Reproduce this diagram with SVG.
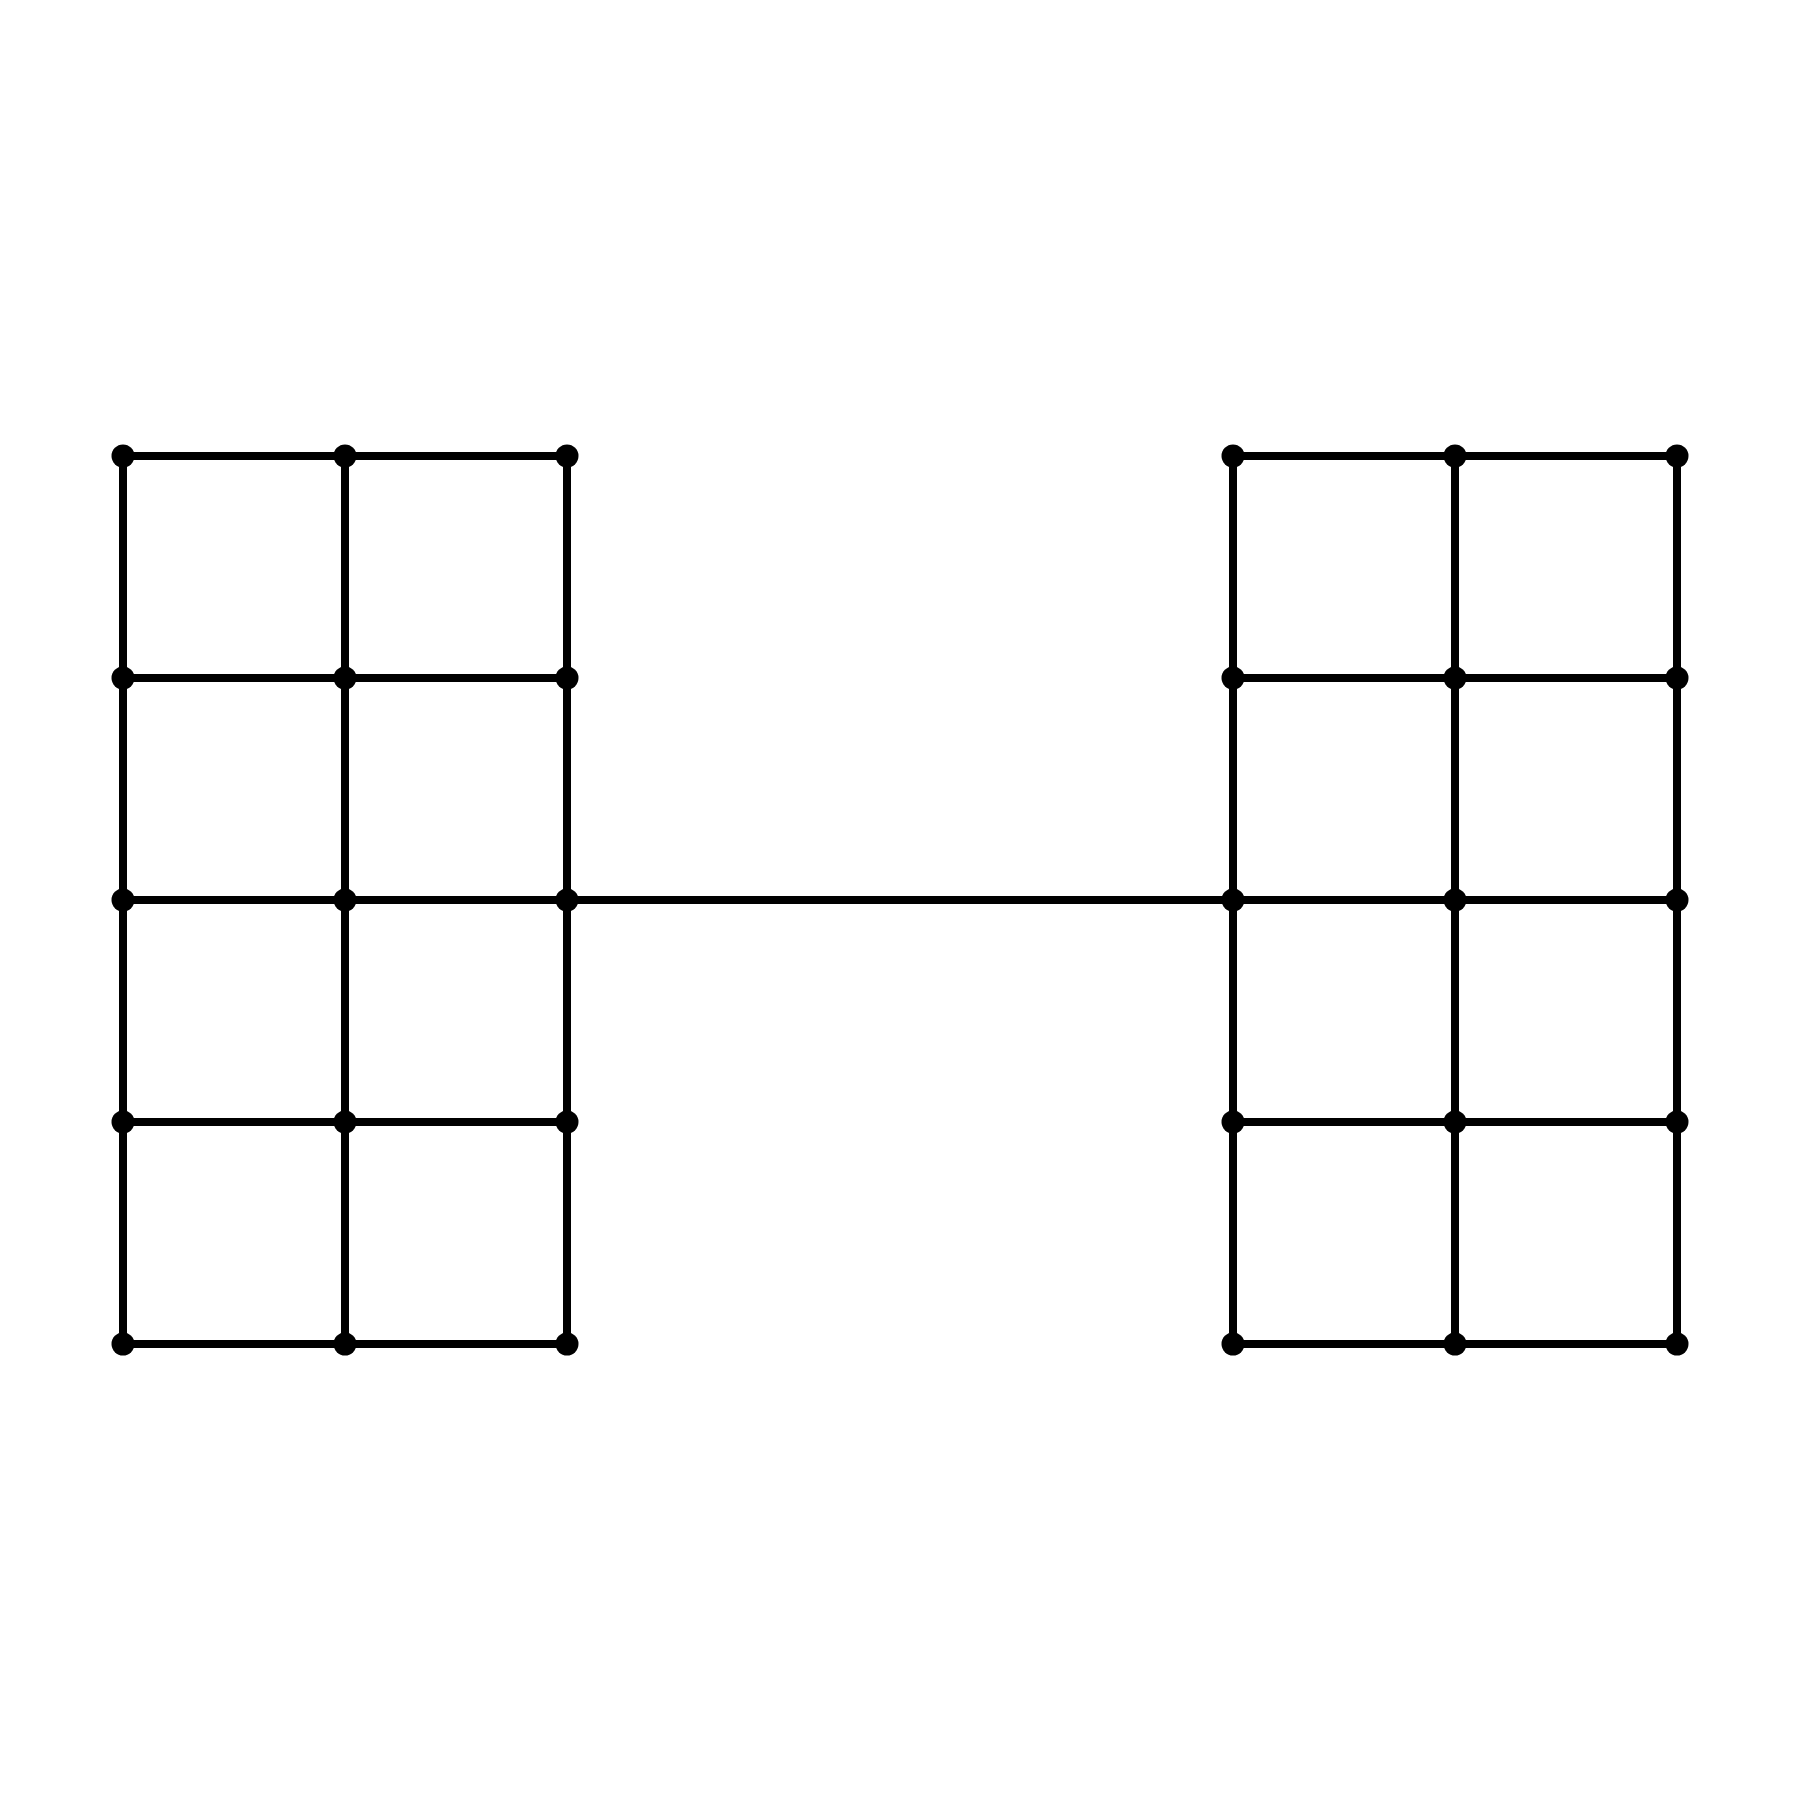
<svg xmlns="http://www.w3.org/2000/svg" width="1800" height="1800" viewBox="0 0 1800 1800">
<style>
.n{fill:#000}
.e{stroke:#000;stroke-width:8;fill:none}
</style>
<rect width="1800" height="1800" fill="#fff"/>
<g id="nodes">
<g id="L00"><circle class="n" cx="123" cy="456" r="11.5"/></g>
<g id="L01"><circle class="n" cx="345" cy="456" r="11.5"/></g>
<g id="L02"><circle class="n" cx="567" cy="456" r="11.5"/></g>
<g id="L10"><circle class="n" cx="123" cy="678" r="11.5"/></g>
<g id="L11"><circle class="n" cx="345" cy="678" r="11.5"/></g>
<g id="L12"><circle class="n" cx="567" cy="678" r="11.5"/></g>
<g id="L20"><circle class="n" cx="123" cy="900" r="11.5"/></g>
<g id="L21"><circle class="n" cx="345" cy="900" r="11.5"/></g>
<g id="L22"><circle class="n" cx="567" cy="900" r="11.5"/></g>
<g id="L30"><circle class="n" cx="123" cy="1122" r="11.5"/></g>
<g id="L31"><circle class="n" cx="345" cy="1122" r="11.5"/></g>
<g id="L32"><circle class="n" cx="567" cy="1122" r="11.5"/></g>
<g id="L40"><circle class="n" cx="123" cy="1344" r="11.5"/></g>
<g id="L41"><circle class="n" cx="345" cy="1344" r="11.5"/></g>
<g id="L42"><circle class="n" cx="567" cy="1344" r="11.5"/></g>
<g id="R00"><circle class="n" cx="1233" cy="456" r="11.5"/></g>
<g id="R01"><circle class="n" cx="1455" cy="456" r="11.5"/></g>
<g id="R02"><circle class="n" cx="1677" cy="456" r="11.5"/></g>
<g id="R10"><circle class="n" cx="1233" cy="678" r="11.5"/></g>
<g id="R11"><circle class="n" cx="1455" cy="678" r="11.5"/></g>
<g id="R12"><circle class="n" cx="1677" cy="678" r="11.5"/></g>
<g id="R20"><circle class="n" cx="1233" cy="900" r="11.5"/></g>
<g id="R21"><circle class="n" cx="1455" cy="900" r="11.5"/></g>
<g id="R22"><circle class="n" cx="1677" cy="900" r="11.5"/></g>
<g id="R30"><circle class="n" cx="1233" cy="1122" r="11.5"/></g>
<g id="R31"><circle class="n" cx="1455" cy="1122" r="11.5"/></g>
<g id="R32"><circle class="n" cx="1677" cy="1122" r="11.5"/></g>
<g id="R40"><circle class="n" cx="1233" cy="1344" r="11.5"/></g>
<g id="R41"><circle class="n" cx="1455" cy="1344" r="11.5"/></g>
<g id="R42"><circle class="n" cx="1677" cy="1344" r="11.5"/></g>
</g>
<g id="connectors">
<path class="e" d="M123 456H567M123 678H567M123 900H567M123 1122H567M123 1344H567"/>
<path class="e" d="M123 456V1344M345 456V1344M567 456V1344"/>
<path class="e" d="M1233 456H1677M1233 678H1677M1233 900H1677M1233 1122H1677M1233 1344H1677"/>
<path class="e" d="M1233 456V1344M1455 456V1344M1677 456V1344"/>
<path class="e" d="M567 900H1233"/>
</g>
</svg>
